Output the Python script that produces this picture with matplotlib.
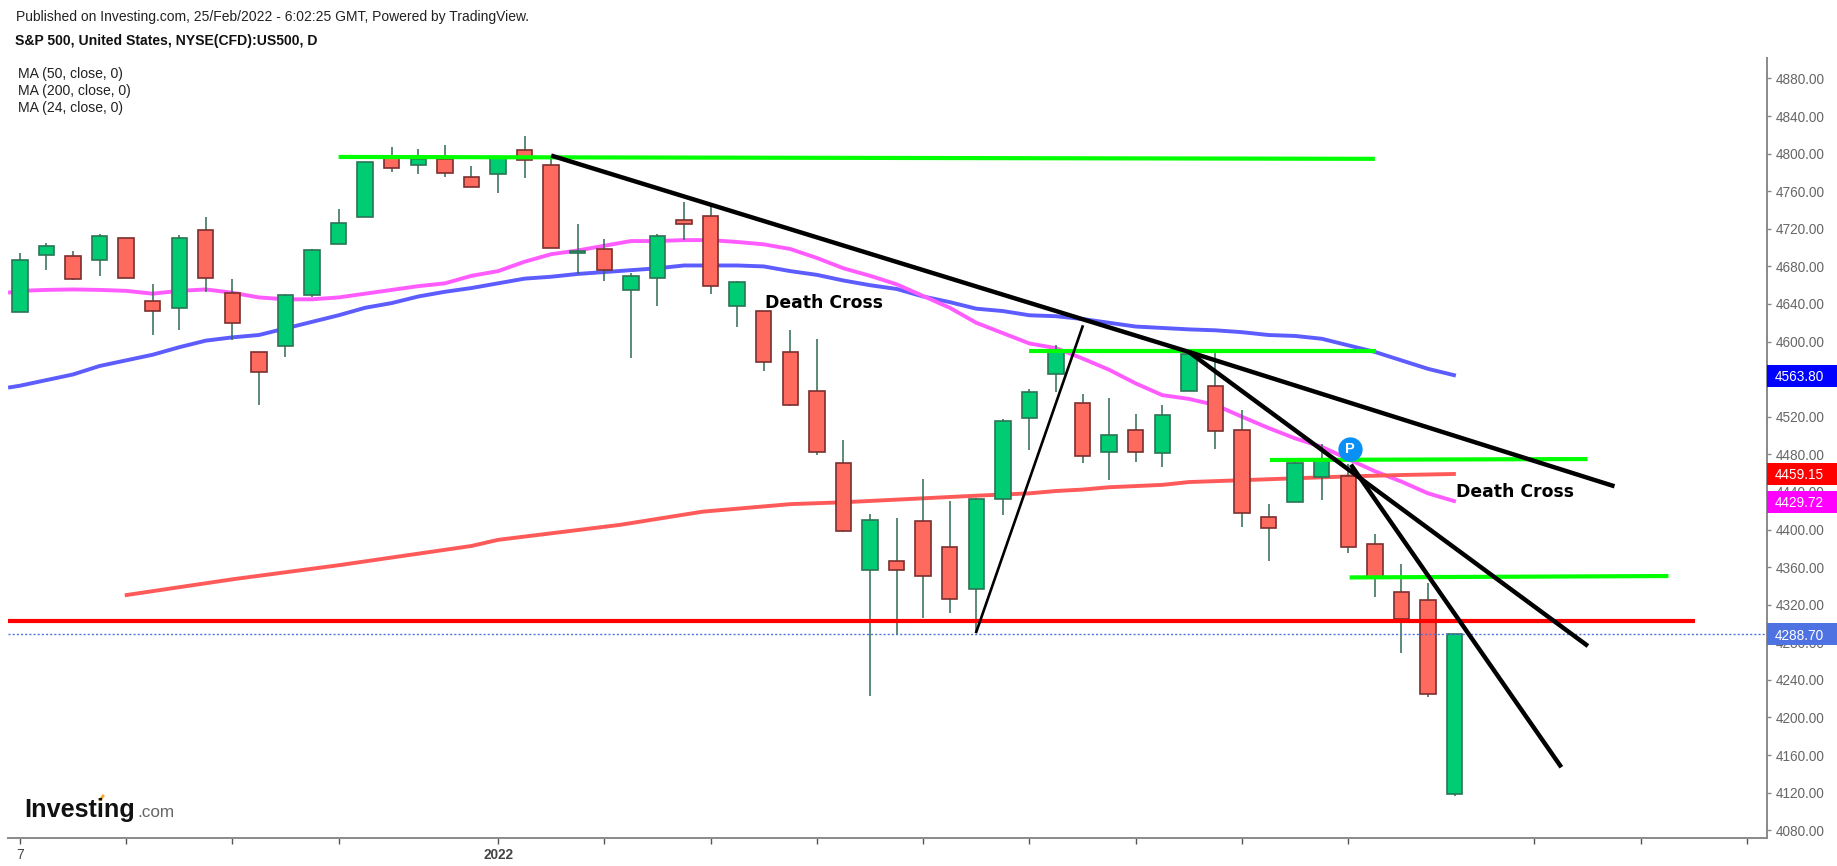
import numpy as np
import matplotlib
matplotlib.use("Agg")
import matplotlib.pyplot as plt
from matplotlib.lines import Line2D
from matplotlib.patches import Rectangle

plt.rcParams['font.family'] = ['Liberation Sans', 'DejaVu Sans']

# velas diarias S&P 500
opens = [4632, 4692, 4691, 4687, 4710, 4643, 4636, 4719, 4652, 4589, 4595, 4650, 4704, 4733, 4795, 4788, 4794, 4775,
         4778, 4804, 4788, 4694, 4698, 4655, 4668, 4729, 4734, 4638, 4633, 4589, 4547, 4471, 4357, 4366, 4409, 4381,
         4337, 4432, 4519, 4566, 4535, 4483, 4506, 4481, 4547, 4553, 4506, 4413, 4429, 4456, 4457, 4385, 4333, 4325,
         4118]
highs = [4694, 4705, 4696, 4714, 4710, 4661, 4713, 4733, 4667, 4589, 4651, 4698, 4741, 4791, 4807, 4805, 4809, 4787,
         4796, 4819, 4798, 4725, 4709, 4673, 4714, 4749, 4744, 4665, 4633, 4612, 4603, 4495, 4417, 4412, 4454, 4430,
         4434, 4518, 4550, 4596, 4544, 4540, 4523, 4532, 4592, 4589, 4527, 4427, 4473, 4491, 4470, 4395, 4363, 4343,
         4289]
lows = [4632, 4676, 4666, 4670, 4668, 4607, 4612, 4653, 4602, 4532, 4584, 4647, 4704, 4733, 4781, 4778, 4775, 4765,
        4758, 4774, 4700, 4672, 4664, 4583, 4638, 4708, 4651, 4616, 4569, 4531, 4479, 4397, 4223, 4289, 4306, 4311,
        4291, 4415, 4485, 4546, 4471, 4453, 4472, 4467, 4547, 4486, 4403, 4366, 4429, 4431, 4375, 4328, 4269, 4222,
        4116]
closes = [4687, 4702, 4667, 4712, 4668, 4633, 4710, 4668, 4620, 4568, 4650, 4697, 4726, 4791, 4785, 4794, 4779, 4765,
          4796, 4793, 4700, 4696, 4676, 4670, 4712, 4725, 4659, 4663, 4578, 4532, 4483, 4398, 4410, 4357, 4350, 4326,
          4432, 4515, 4546, 4590, 4478, 4501, 4483, 4522, 4587, 4505, 4418, 4402, 4471, 4475, 4381, 4349, 4305, 4225,
          4288.7]

# medias moviles
ma50_x = [-0.44, 0, 1, 2, 3, 4, 5, 6, 7, 8, 9, 10, 11, 12, 13, 14, 15, 16, 17, 18, 19, 20, 21, 22, 23, 24, 25, 26, 27,
          28, 29, 30, 31, 32, 33, 34, 35, 36, 37, 38, 39, 40, 41, 42, 43, 44, 45, 46, 47, 48, 49, 50, 51, 52, 53, 54.05]
ma50 = [4551, 4553, 4559, 4565, 4574, 4580, 4586, 4594, 4601, 4604.5, 4607, 4614, 4621, 4628, 4636, 4641, 4648, 4653,
        4657, 4662, 4667, 4669, 4672, 4674, 4676, 4678, 4681, 4681, 4681, 4680, 4675, 4671, 4665, 4660, 4656, 4648,
        4642, 4635, 4632.5, 4628, 4627, 4624, 4620, 4616, 4614.5, 4613, 4612, 4610, 4607, 4606, 4603, 4596, 4589, 4580,
        4571, 4563.8]
ma24_x = ma50_x
ma24 = [4652, 4654, 4655, 4655.5, 4655, 4654, 4651, 4654, 4655.5, 4652, 4647, 4645, 4645, 4647, 4651, 4655, 4659, 4662,
        4670, 4675, 4685, 4693, 4697, 4702, 4707, 4707, 4708, 4708, 4706, 4703.5, 4698.5, 4689, 4678, 4670, 4661,
        4648.5, 4636, 4620, 4609, 4598, 4593, 4582, 4570, 4555.5, 4543, 4539, 4532.5, 4520, 4508, 4497, 4488, 4475,
        4462, 4451, 4438.5, 4429.72]
ma200_x = [3.95, 8, 12, 17, 18, 22.6, 25.7, 29, 31, 36, 38, 39, 40, 41, 43, 44, 46, 48, 50, 52, 54.05]
ma200 = [4330, 4347, 4362, 4382.5, 4389, 4405, 4419, 4427, 4429, 4436, 4438.5, 4441, 4442.5, 4445, 4447.5, 4450.5,
         4452.5, 4454.5, 4456.5, 4458, 4459.15]

# lineas dibujadas: (x0, y0, x1, y1)
lineas_verdes = [(12, 4796.5, 51, 4794.5), (38, 4590, 51.05, 4590), (47.05, 4474, 59, 4475), (50.05, 4349, 62.05, 4350.5)]
lineas_negras = [(20, 4798, 44, 4589), (44, 4589, 60.02, 4446), (44, 4589, 59.02, 4276), (50.1, 4469, 58.02, 4147)]
linea_fina = (36, 4291, 40, 4616)
soporte = 4302.7
ultimo = 4288.7

y_ticks = np.arange(4080, 4881, 40)
x_ticks = [0, 4, 8, 12, 18, 22, 26, 30, 34, 38, 42, 46, 50, 57, 61, 65]
x_labels = {0: "7", 18: "2022"}

etiquetas = [(4563.80, "#0000ff"), (4459.15, "#ff0000"), (4429.72, "#ff00ff"), (4288.70, "#4f72e3")]

fig = plt.figure(figsize=(18.37, 8.66), dpi=100)
ax = fig.add_axes([8 / 1837, 28 / 866, 1759 / 1837, 780 / 866])
ax.set_xlim(-0.444, 65.76)
ax.set_ylim(4071.7, 4901.8)

ax.plot(ma50_x, ma50, color="#5c5cff", lw=2.8, solid_capstyle="butt", zorder=2)
ax.plot(ma24_x, ma24, color="#ff5cff", lw=2.8, solid_capstyle="butt", zorder=2)
ax.plot(ma200_x, ma200, color="#ff5a5a", lw=2.8, solid_capstyle="butt", zorder=2)

# velas
for i in range(len(opens)):
    sube = closes[i] >= opens[i]
    relleno = "#00cc73" if sube else "#ff6a5f"
    borde = "#2d7355" if sube else "#7a2f2f"
    ax.vlines(i, lows[i], highs[i], color="#2f6b50", lw=1.1, zorder=3)
    ax.bar(i, abs(closes[i] - opens[i]), bottom=min(opens[i], closes[i]), width=0.58,
           color=relleno, edgecolor=borde, linewidth=1.2, zorder=4)

for x0, y0, x1, y1 in lineas_verdes:
    ax.plot([x0, x1], [y0, y1], color="#00ff00", lw=3, solid_capstyle="butt", zorder=5)
for x0, y0, x1, y1 in lineas_negras:
    ax.plot([x0, x1], [y0, y1], color="black", lw=3.2, solid_capstyle="butt", zorder=6)
ax.plot([linea_fina[0], linea_fina[2]], [linea_fina[1], linea_fina[3]], color="black", lw=1.9, zorder=6)
ax.plot([-0.44, 63.05], [soporte, soporte], color="#ff0000", lw=3, solid_capstyle="butt", zorder=5)
ax.axhline(ultimo, color="#4f72e3", lw=1, ls=(0, (1.5, 1.5)), zorder=5)

ax.text(28.05, 4641, "Death Cross", fontsize=12.4, fontweight="bold", family="DejaVu Sans", va="center", zorder=7)
ax.text(54.05, 4440, "Death Cross", fontsize=12.4, fontweight="bold", family="DejaVu Sans", va="center", zorder=7)

# marcador P
ax.plot(50.05, 4485.7, "o", ms=16.5, color="#0a90f5", zorder=7)
ax.text(50.05, 4485.2, "P", color="white", fontsize=10.5, fontweight="bold", ha="center", va="center", zorder=8)

for lado in ["top", "left"]:
    ax.spines[lado].set_visible(False)
for lado in ["bottom", "right"]:
    ax.spines[lado].set_color("#8a8a8a")
    ax.spines[lado].set_linewidth(1.4)

ax.yaxis.tick_right()
ax.set_yticks(y_ticks)
# el rotulo 4560 queda tapado por la caja azul
ax.set_yticklabels(["" if v == 4560 else "%.2f" % v for v in y_ticks])
ax.tick_params(axis="y", length=3, width=1, color="#8a8a8a", labelcolor="#666666", labelsize=9.8, pad=3)
ax.set_xticks(x_ticks)
ax.set_xticklabels([x_labels.get(t, "") for t in x_ticks])
ax.tick_params(axis="x", length=4, width=1, color="#555555", labelcolor="#444444", labelsize=9.8, pad=3)
for lab, t in zip(ax.get_xticklabels(), x_ticks):
    if t == 18:
        lab.set_fontweight("bold")

# cajas de precio sobre el eje
trans = ax.get_yaxis_transform()
alto = 22 / 0.9396
for precio, color in etiquetas:
    ax.add_patch(Rectangle((1.0, precio - alto / 2), 70 / 1759, alto, transform=trans, facecolor=color,
                           edgecolor="none", zorder=9, clip_on=False))
    ax.text(1.0 + 8 / 1759, precio, "%.2f" % precio, transform=trans, color="white", fontsize=9.8, ha="left",
            va="center_baseline", zorder=10, clip_on=False)

W, H = 1837.0, 866.0
fig.text(15.5 / W, 1 - 17.5 / H, "Published on Investing.com, 25/Feb/2022 - 6:02:25 GMT, Powered by TradingView.",
         fontsize=10, color="#222222", va="center")
fig.text(15 / W, 1 - 40.5 / H, "S&P 500, United States, NYSE(CFD):US500, D", fontsize=10.05, fontweight="bold",
         color="#111111", va="center")
for y_px, txt in zip([74, 90.5, 108], ["MA (50, close, 0)", "MA (200, close, 0)", "MA (24, close, 0)"]):
    fig.text(18 / W, 1 - y_px / H, txt, fontsize=10.1, color="#222222", va="center")

# logo
fig.text(24.5 / W, 1 - 817 / H, "Investing", fontsize=18.2, fontweight="bold", color="#111111", va="baseline")
fig.text(137 / W, 1 - 817 / H, ".com", fontsize=12.3, color="#666666", va="baseline")
fig.add_artist(Line2D([100.5 / W, 103 / W], [1 - 799.5 / H, 1 - 796 / H], color="#f5a623", lw=2))

fig.savefig("out.png", dpi=100, facecolor="white")
